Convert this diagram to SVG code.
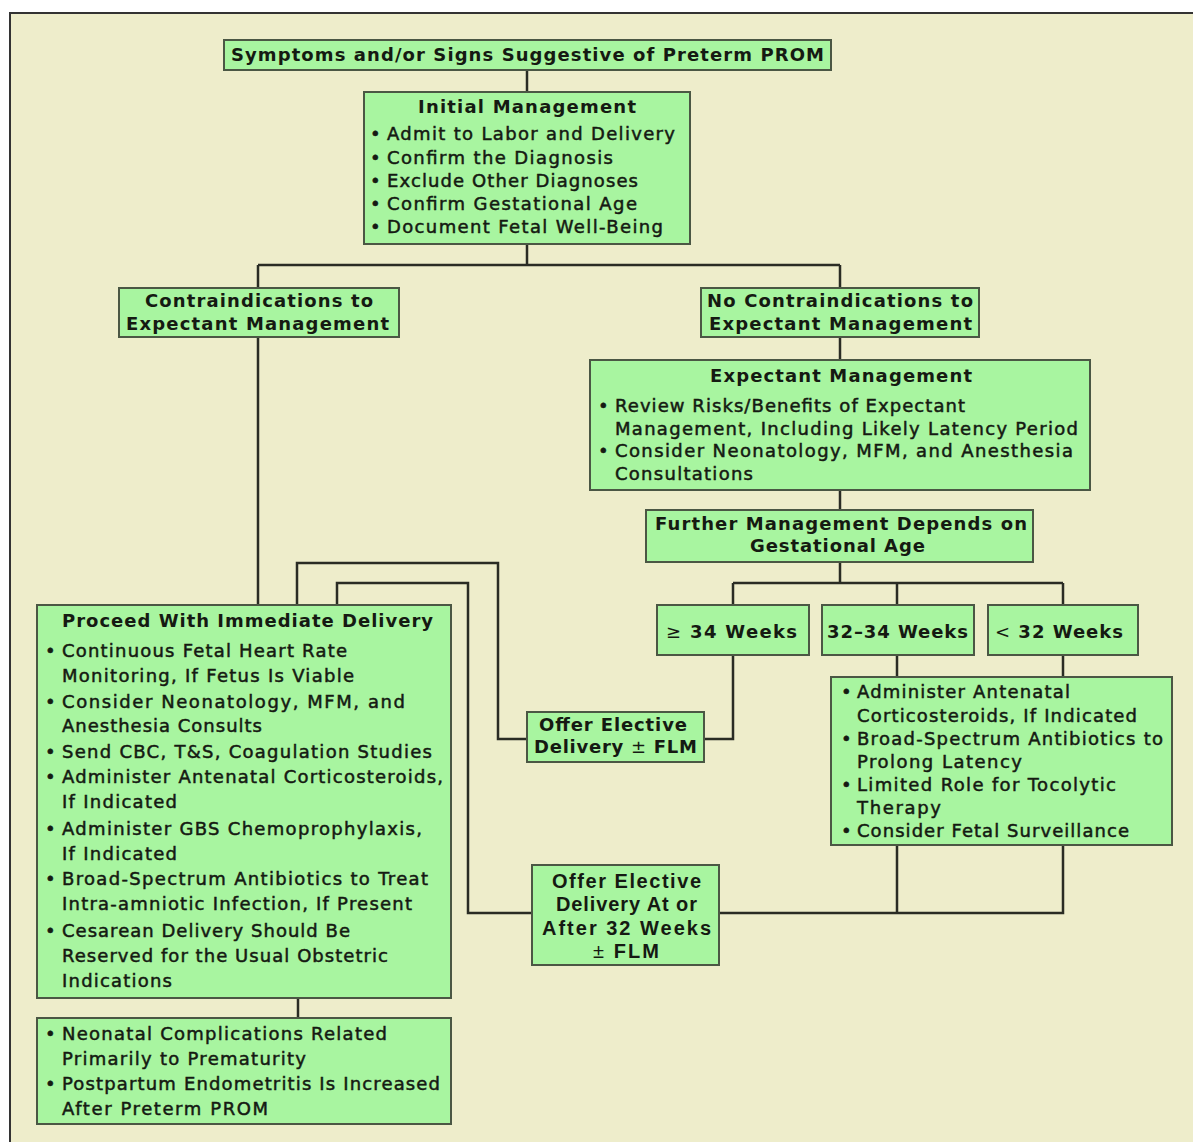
<svg xmlns="http://www.w3.org/2000/svg" width="1193" height="1142" viewBox="0 0 1193 1142">
<style>
.node rect{fill:#a8f5a0;stroke:#4b5744;stroke-width:2}
.h{font-family:"DejaVu Sans","Liberation Sans",sans-serif;font-weight:bold;font-size:18px;fill:#151a12}
.b{font-family:"DejaVu Sans","Liberation Sans",sans-serif;font-size:18px;fill:#151a12;stroke:#151a12;stroke-width:0.5}
.c{font-family:"Liberation Sans","DejaVu Sans",sans-serif;font-weight:bold;font-size:20px;fill:#151a12}
.lt{font-weight:normal}
#connectors path{fill:none;stroke:#2a2c24;stroke-width:2.5}
</style>
<rect x="0" y="0" width="1193" height="1142" fill="#ffffff"/>
<rect x="10" y="13" width="1200" height="1200" fill="#eeedcb" stroke="#333" stroke-width="2"/>

<g id="connectors">
<path d="M527 70V92"/>
<path d="M527 244V265M258 265H840M258 265V288M840 265V288"/>
<path d="M258 337V605"/>
<path d="M840 337V360"/>
<path d="M840 490V510"/>
<path d="M840 562V583M733 583H1063M733 583V605M897 583V605M1063 583V605"/>
<path d="M733 655V739H704"/>
<path d="M527 739H498V563H297V605"/>
<path d="M897 655V677M1063 655V677"/>
<path d="M897 845V913M1063 845V913H719"/>
<path d="M532 913H468V583H337V605"/>
<path d="M298 998V1017"/>
</g>

<g id="n-symptoms" class="node">
<rect x="224" y="40" width="607" height="30"/>
<text class="h" x="231" y="61" textLength="593" lengthAdjust="spacing">Symptoms and/or Signs Suggestive of Preterm PROM</text>
</g>

<g id="n-initial" class="node">
<rect x="364" y="92" width="326" height="152"/>
<text class="h" x="418" y="113" textLength="218" lengthAdjust="spacing">Initial Management</text>
<text class="b" x="370" y="140">•</text><text class="b" x="387" y="140" textLength="288" lengthAdjust="spacing">Admit to Labor and Delivery</text>
<text class="b" x="370" y="164">•</text><text class="b" x="387" y="164" textLength="226" lengthAdjust="spacing">Confirm the Diagnosis</text>
<text class="b" x="370" y="187">•</text><text class="b" x="387" y="187" textLength="251" lengthAdjust="spacing">Exclude Other Diagnoses</text>
<text class="b" x="370" y="210">•</text><text class="b" x="387" y="210" textLength="250" lengthAdjust="spacing">Confirm Gestational Age</text>
<text class="b" x="370" y="233">•</text><text class="b" x="387" y="233" textLength="276" lengthAdjust="spacing">Document Fetal Well-Being</text>
</g>

<g id="n-contra" class="node">
<rect x="119" y="288" width="280" height="49"/>
<text class="h" x="145" y="307" textLength="228" lengthAdjust="spacing">Contraindications to</text>
<text class="h" x="126" y="330" textLength="263" lengthAdjust="spacing">Expectant Management</text>
</g>

<g id="n-nocontra" class="node">
<rect x="701" y="288" width="278" height="49"/>
<text class="h" x="707" y="307" textLength="266" lengthAdjust="spacing">No Contraindications to</text>
<text class="h" x="709" y="330" textLength="263" lengthAdjust="spacing">Expectant Management</text>
</g>

<g id="n-expectant" class="node">
<rect x="590" y="360" width="500" height="130"/>
<text class="h" x="710" y="382" textLength="262" lengthAdjust="spacing">Expectant Management</text>
<text class="b" x="598" y="412">•</text><text class="b" x="615" y="412" textLength="350" lengthAdjust="spacing">Review Risks/Benefits of Expectant</text>
<text class="b" x="615" y="435" textLength="463" lengthAdjust="spacing">Management, Including Likely Latency Period</text>
<text class="b" x="598" y="457">•</text><text class="b" x="615" y="457" textLength="458" lengthAdjust="spacing">Consider Neonatology, MFM, and Anesthesia</text>
<text class="b" x="615" y="480" textLength="138" lengthAdjust="spacing">Consultations</text>
</g>

<g id="n-further" class="node">
<rect x="646" y="510" width="387" height="52"/>
<text class="h" x="655" y="530" textLength="372" lengthAdjust="spacing">Further Management Depends on</text>
<text class="h" x="750" y="552" textLength="175" lengthAdjust="spacing">Gestational Age</text>
</g>

<g id="n-ge34" class="node">
<rect x="657" y="605" width="152" height="50"/>
<text class="h" x="666" y="638" textLength="131" lengthAdjust="spacing"><tspan class="lt">≥</tspan> 34 Weeks</text>
</g>

<g id="n-3234" class="node">
<rect x="822" y="605" width="152" height="50"/>
<text class="h" x="827" y="638" textLength="141" lengthAdjust="spacing">32–34 Weeks</text>
</g>

<g id="n-lt32" class="node">
<rect x="988" y="605" width="150" height="50"/>
<text class="h" x="995" y="638" textLength="128" lengthAdjust="spacing"><tspan class="lt">&lt;</tspan> 32 Weeks</text>
</g>

<g id="n-expbullets" class="node">
<rect x="831" y="677" width="341" height="168"/>
<text class="b" x="841" y="698">•</text><text class="b" x="857" y="698" textLength="213" lengthAdjust="spacing">Administer Antenatal</text>
<text class="b" x="857" y="722" textLength="280" lengthAdjust="spacing">Corticosteroids, If Indicated</text>
<text class="b" x="841" y="745">•</text><text class="b" x="857" y="745" textLength="306" lengthAdjust="spacing">Broad-Spectrum Antibiotics to</text>
<text class="b" x="857" y="768" textLength="165" lengthAdjust="spacing">Prolong Latency</text>
<text class="b" x="841" y="791">•</text><text class="b" x="857" y="791" textLength="259" lengthAdjust="spacing">Limited Role for Tocolytic</text>
<text class="b" x="857" y="814" textLength="84" lengthAdjust="spacing">Therapy</text>
<text class="b" x="841" y="837">•</text><text class="b" x="857" y="837" textLength="272" lengthAdjust="spacing">Consider Fetal Surveillance</text>
</g>

<g id="n-offer34" class="node">
<rect x="527" y="712" width="177" height="50"/>
<text class="h" x="539" y="731" textLength="148" lengthAdjust="spacing">Offer Elective</text>
<text class="h" x="534" y="753" textLength="163" lengthAdjust="spacing">Delivery <tspan class="lt">±</tspan> FLM</text>
</g>

<g id="n-offer32" class="node">
<rect x="532" y="865" width="187" height="100"/>
<text class="c" x="552" y="888" textLength="149" lengthAdjust="spacing">Offer Elective</text>
<text class="c" x="556" y="911" textLength="141" lengthAdjust="spacing">Delivery At or</text>
<text class="c" x="542" y="935" textLength="169" lengthAdjust="spacing">After 32 Weeks</text>
<text class="c" x="593" y="958" textLength="66" lengthAdjust="spacing"><tspan class="lt">±</tspan> FLM</text>
</g>

<g id="n-proceed" class="node">
<rect x="37" y="605" width="414" height="393"/>
<text class="h" x="62" y="627" textLength="371" lengthAdjust="spacing">Proceed With Immediate Delivery</text>
<text class="b" x="45" y="657">•</text><text class="b" x="62" y="657" textLength="285" lengthAdjust="spacing">Continuous Fetal Heart Rate</text>
<text class="b" x="62" y="682" textLength="292" lengthAdjust="spacing">Monitoring, If Fetus Is Viable</text>
<text class="b" x="45" y="708">•</text><text class="b" x="62" y="708" textLength="343" lengthAdjust="spacing">Consider Neonatology, MFM, and</text>
<text class="b" x="62" y="732" textLength="200" lengthAdjust="spacing">Anesthesia Consults</text>
<text class="b" x="45" y="758">•</text><text class="b" x="62" y="758" textLength="370" lengthAdjust="spacing">Send CBC, T&amp;S, Coagulation Studies</text>
<text class="b" x="45" y="783">•</text><text class="b" x="62" y="783" textLength="381" lengthAdjust="spacing">Administer Antenatal Corticosteroids,</text>
<text class="b" x="62" y="808" textLength="115" lengthAdjust="spacing">If Indicated</text>
<text class="b" x="45" y="835">•</text><text class="b" x="62" y="835" textLength="360" lengthAdjust="spacing">Administer GBS Chemoprophylaxis,</text>
<text class="b" x="62" y="860" textLength="115" lengthAdjust="spacing">If Indicated</text>
<text class="b" x="45" y="885">•</text><text class="b" x="62" y="885" textLength="366" lengthAdjust="spacing">Broad-Spectrum Antibiotics to Treat</text>
<text class="b" x="62" y="910" textLength="350" lengthAdjust="spacing">Intra-amniotic Infection, If Present</text>
<text class="b" x="45" y="937">•</text><text class="b" x="62" y="937" textLength="288" lengthAdjust="spacing">Cesarean Delivery Should Be</text>
<text class="b" x="62" y="962" textLength="326" lengthAdjust="spacing">Reserved for the Usual Obstetric</text>
<text class="b" x="62" y="987" textLength="110" lengthAdjust="spacing">Indications</text>
</g>

<g id="n-outcomes" class="node">
<rect x="37" y="1018" width="414" height="106"/>
<text class="b" x="45" y="1040">•</text><text class="b" x="62" y="1040" textLength="325" lengthAdjust="spacing">Neonatal Complications Related</text>
<text class="b" x="62" y="1065" textLength="244" lengthAdjust="spacing">Primarily to Prematurity</text>
<text class="b" x="45" y="1090">•</text><text class="b" x="62" y="1090" textLength="378" lengthAdjust="spacing">Postpartum Endometritis Is Increased</text>
<text class="b" x="62" y="1115" textLength="206" lengthAdjust="spacing">After Preterm PROM</text>
</g>
</svg>
